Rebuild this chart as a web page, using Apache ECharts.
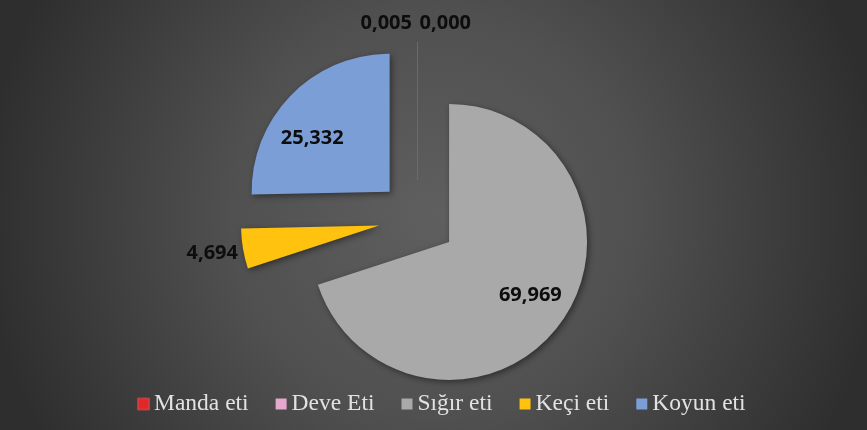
<!DOCTYPE html>
<html>
<head>
<meta charset="utf-8">
<title>Et üretimi payları</title>
<script src="https://cdn.jsdelivr.net/npm/echarts@6/dist/echarts.min.js"></script>
<style>
  html, body { margin: 0; padding: 0; background: #2f2f2f; }
  #chart { width: 867px; height: 430px; }
</style>
</head>
<body>
<div id="chart"></div>
<script>
// Meat types and their shares (%)
const categories = ['Manda eti', 'Deve Eti', 'Sığır eti', 'Keçi eti', 'Koyun eti'];
const values = [0.005, 0.000, 69.969, 4.694, 25.332];

const palette = ['#e3262b', '#e4a8cf', '#a9a9a9', '#ffc20e', '#7c9ed6'];

// Label placement per slice: inside labels pushed outward, the two tiny slices' labels spread apart
const labelPlacement = {
  'Manda eti': { position: 'outside', shift: [-62, -19] },
  'Deve Eti':  { position: 'outside', shift: [-3, -19] },
  'Sığır eti': { position: 'inside',  shift: [23, 11] },
  'Keçi eti':  { position: 'outside', shift: [0, 5] },
  'Koyun eti': { position: 'inside',  shift: [-26, -3] }
};

const fmt = v => v.toFixed(3).replace('.', ',');

const pieData = categories.map((name, i) => {
  const item = {
    name: name,
    value: values[i],
    selected: true,
    label: { position: labelPlacement[name].position }
  };
  if (name === 'Manda eti') {
    // hairline slice; a thin outline keeps it visible
    item.itemStyle = {
      borderColor: 'rgba(205,70,70,0.75)',
      borderWidth: 0.8,
      shadowColor: 'rgba(0,0,0,0)',
      shadowBlur: 0, shadowOffsetX: 0, shadowOffsetY: 0
    };
  }
  return item;
});

const chart = echarts.init(document.getElementById('chart'), null, { renderer: 'canvas' });

chart.setOption({
  backgroundColor: {
    type: 'radial', x: 0.5, y: 0.5, r: 1.05,
    colorStops: [
      { offset: 0, color: '#5f5f5f' },
      { offset: 0.45, color: '#505050' },
      { offset: 1, color: '#2e2e2e' }
    ]
  },
  color: palette,
  animation: false,
  legend: {
    data: categories,
    left: 137,
    top: 392,
    padding: 0,
    icon: 'rect',
    itemWidth: 11,
    itemHeight: 11,
    itemGap: 27,
    selectedMode: false,
    textStyle: {
      fontFamily: 'Liberation Serif',
      fontSize: 23.5,
      color: '#e2e2e2'
    }
  },
  series: [{
    type: 'pie',
    center: [417.5, 219],
    radius: [0, 138],
    startAngle: 90,
    clockwise: true,
    selectedMode: 'multiple',
    selectedOffset: 39,
    avoidLabelOverlap: false,
    emphasis: { disabled: true },
    itemStyle: {
      shadowBlur: 6,
      shadowOffsetX: 2,
      shadowOffsetY: 2,
      shadowColor: 'rgba(0,0,0,0.45)'
    },
    label: {
      show: true,
      formatter: p => fmt(p.value),
      fontFamily: 'Noto Sans',
      fontWeight: 'bold',
      fontSize: 20,
      color: '#0d0d0d'
    },
    labelLine: { show: false, length: 0, length2: 0 },
    labelLayout: function (params) {
      const s = labelPlacement[categories[params.dataIndex]].shift;
      return { dx: s[0], dy: s[1] };
    },
    data: pieData
  }]
});
</script>
</body>
</html>
